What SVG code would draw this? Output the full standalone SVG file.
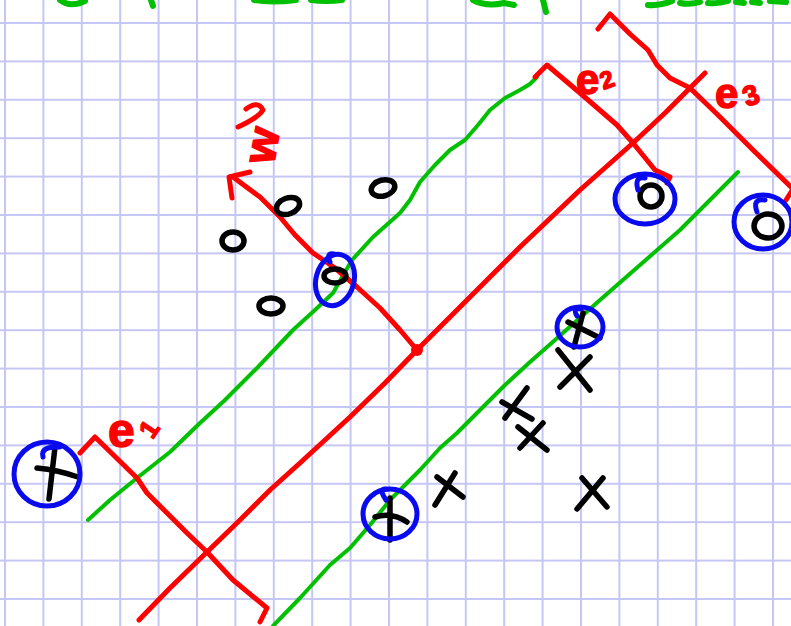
<svg xmlns="http://www.w3.org/2000/svg" width="791" height="626" viewBox="0 0 791 626">
<style>
.g{fill:none;stroke:#00c000;stroke-width:4;stroke-linecap:round;stroke-linejoin:round}
.gt{fill:none;stroke:#00c000;stroke-width:6;stroke-linecap:round;stroke-linejoin:round}
.r{fill:none;stroke:#ff0000;stroke-width:5;stroke-linecap:round;stroke-linejoin:round}
.b{fill:none;stroke:#0a0aee;stroke-width:5;stroke-linecap:round;stroke-linejoin:round}
.k{fill:none;stroke:#000;stroke-width:5.5;stroke-linecap:round;stroke-linejoin:round}
.lbl{font-family:"Liberation Sans",Arial,sans-serif;font-weight:bold;fill:#ff0000;stroke:#ff0000;stroke-width:1.5;stroke-linejoin:round}
</style>
<defs>
<pattern id="grid" x="4" y="22" width="38.4" height="38.4" patternUnits="userSpaceOnUse">
<path d="M1 0V38.4M0 1H38.4" stroke="#c6c6f6" stroke-width="2" fill="none"/>
</pattern>
</defs>
<rect width="791" height="626" fill="#ffffff"/>
<rect width="791" height="626" fill="url(#grid)"/>

<g id="top-fragments" class="gt">
<path d="M60,0 Q70,8 85,1"/>
<path d="M151,0 L153,6"/>
<path d="M254,0 Q272,3 296,0"/>
<path d="M311,0 Q326,2 342,0"/>
<path d="M473,0 Q486,7 504,3 L514,5"/>
<path d="M543,0 L546,12"/>
<path d="M648,5 Q660,6 672,1 M680,3 Q690,5 700,2 M708,3 Q718,4 728,1 M736,2 L744,3 M752,2 L760,3 M770,1 L786,2"/>
</g>

<g id="connectors">
<g id="margin-upper">
<path class="g" d="M88,520 L110,500 137,478 170,452 200,423 225,400 255,370 293,330 315,310 333,293 345,272 352,260 373,237 400,213 410,200 420,182 435,165 450,150 465,140 478,125 490,110 505,98 520,90 530,84 537,77"/>
</g>
<g id="margin-lower">
<path class="g" d="M273,626 L300,598 330,565 350,548 370,525 390,500 420,470 440,448 457,433 480,410 505,385 530,362 555,340 600,300 640,265 680,230 710,200 738,172"/>
</g>
<g id="boundary">
<path class="r" d="M139,620 L170,588 207,552 240,520 270,490 300,463 350,417 385,383 417,350 467,300 520,247 580,190 633,143 665,113 690,88 705,73"/>
</g>
<g id="w-vector">
<path class="r" d="M417,350 L400,330 380,308 357,287 335,268 313,253 295,235 280,217 260,197 233,177"/>
<path class="r" d="M250,172 L229,177 L232,198"/>
<circle cx="417" cy="350" r="6" fill="#ff0000"/>
</g>
<g id="bracket-e1">
<path class="r" d="M80,453 L95,437 L137,478 L147,493 L167,513 L187,533 L207,552 L233,580 L267,608 L260,622"/>
</g>
<g id="bracket-e2">
<path class="r" d="M535,77 L547,65 L580,93 L617,125 L633,143 L655,170 L670,177 L667,183"/>
</g>
<g id="bracket-e3">
<path class="r" d="M598,29 L610,14 L630,34 L648,50 L657,65 L670,78 L690,88 L720,117 L753,150 L793,189 L786,200"/>
</g>
</g>

<g id="labels">
<path class="r" d="M246,109 Q258,100 263,110 Q258,118 238,127"/>
<text class="lbl" font-size="46" text-anchor="middle" transform="translate(266,146) rotate(-80)" x="0" y="11">w</text>
<text class="lbl" font-size="48" x="108" y="447">e</text>
<text class="lbl" font-size="26" text-anchor="middle" transform="translate(149,429) rotate(-56)" x="0" y="9">1</text>
<text class="lbl" font-size="42" x="576" y="94">e</text>
<text class="lbl" font-size="24" text-anchor="middle" transform="translate(607,80) rotate(-20)" x="0" y="8">2</text>
<text class="lbl" font-size="42" x="715" y="108">e</text>
<text class="lbl" font-size="28" text-anchor="middle" transform="translate(751,95) rotate(-20)" x="0" y="10">3</text>
</g>

<g id="point-o1"><ellipse class="k" cx="288" cy="206" rx="12" ry="8" transform="rotate(-20 288 206)"/></g>
<g id="point-o2"><ellipse class="k" cx="383" cy="188" rx="12" ry="8" transform="rotate(-15 383 188)"/></g>
<g id="point-o3"><ellipse class="k" cx="233" cy="241" rx="11" ry="9"/></g>
<g id="point-o4"><ellipse class="k" cx="271" cy="306" rx="12" ry="8"/></g>
<g id="point-o5">
<ellipse class="k" cx="335" cy="276" rx="11" ry="7"/>
<ellipse class="b" cx="335" cy="280" rx="19" ry="26" transform="rotate(15 335 280)"/>
<path class="b" d="M330,262 Q326,252 334,254"/>
</g>
<g id="point-o6">
<ellipse class="k" cx="651" cy="196" rx="11" ry="11"/>
<ellipse class="b" cx="645" cy="199" rx="30" ry="25"/>
<path class="b" d="M638,190 Q634,176 645,178"/>
</g>
<g id="point-o7">
<ellipse class="k" cx="768" cy="226" rx="14" ry="12"/>
<ellipse class="b" cx="763" cy="222" rx="29" ry="27"/>
<path class="b" d="M757,212 Q752,198 765,200"/>
</g>
<g id="point-x1">
<path class="k" d="M37,468 Q58,470 78,477 M55,447 L49,499"/>
<ellipse class="b" cx="47" cy="474" rx="33" ry="32"/>
<path class="b" d="M43,457 Q40,446 60,447"/>
</g>
<g id="point-x2">
<path class="k" d="M375,517 Q392,512 407,522 M390,498 L390,540"/>
<ellipse class="b" cx="390" cy="514" rx="27" ry="25"/>
<path class="b" d="M386,500 Q378,488 386,489"/>
</g>
<g id="point-x3">
<path class="k" d="M568,322 L600,338 M583,313 L574,347"/>
<ellipse class="b" cx="580" cy="327" rx="23" ry="20"/>
<path class="b" d="M577,316 Q572,307 581,309"/>
</g>
<g id="point-x4"><path class="k" d="M558,350 L590,390 M590,357 L560,387"/></g>
<g id="point-x5"><path class="k" d="M502,402 L532,419 M527,388 L505,418"/></g>
<g id="point-x6"><path class="k" d="M518,427 L547,450 M543,423 L520,448"/></g>
<g id="point-x7"><path class="k" d="M437,477 L463,497 M455,473 L435,505"/></g>
<g id="point-x8"><path class="k" d="M582,478 L607,507 M603,478 L577,509"/></g>
</svg>
